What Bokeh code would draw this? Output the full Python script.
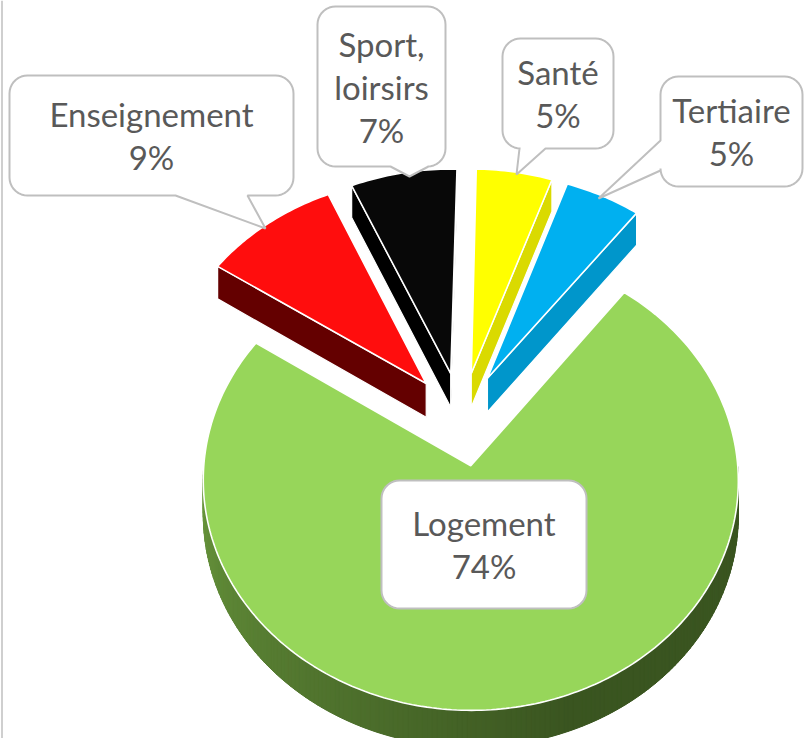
import numpy as np
from bokeh.plotting import figure
from bokeh.models import Range1d
from bokeh.embed import file_html
from bokeh.resources import INLINE
from bokeh.core.properties import value

# ---------------- data ----------------
categories = ["Logement", "Enseignement", "Sport,\nloirsirs", "Santé", "Tertiaire"]
values = [74, 9, 7, 5, 5]
pct_text = ["74%", "9%", "7%", "5%", "5%"]
top_colors = ["#97D65A", "#FF0D0D", "#080808", "#FFFF00", "#00B0F0"]
side_colors = ["#3A5520", "#640000", "#000000", "#DADA00", "#0096CB"]

# ---------------- 3D pie layout (pixel space) ----------------
FIRST_SLICE_ANGLE = 37.3   # degrees, clockwise from 12 o'clock
CX, CY = 461.0, 418.5
RX, RY = 263.5, 223.0
PERSP = 0.063
EXPLODE = 0.21
DEPTH = 34.0

W, H = 806, 738


def proj(u, v, h=0.0):
    u = np.asarray(u, dtype=float)
    v = np.asarray(v, dtype=float)
    s = 1.0 / (1.0 + PERSP * v)
    return CX + RX * u * s, CY - RY * v * s + DEPTH * h * s


def hex_to_rgb(h):
    h = h.lstrip("#")
    return np.array([int(h[i:i + 2], 16) for i in (0, 2, 4)], dtype=float)


def mix(c1, c2, w):
    a, b = hex_to_rgb(c1), hex_to_rgb(c2)
    c = a * (1 - w) + b * w
    return "#%02x%02x%02x" % tuple(int(round(x)) for x in c)


p = figure(width=W, height=H, x_range=Range1d(0, W), y_range=Range1d(H, 0),
           output_backend="svg", toolbar_location=None, min_border=0,
           x_axis_location=None, y_axis_location=None)
p.grid.visible = False
p.outline_line_color = None
p.background_fill_color = "white"
p.border_fill_color = "white"

# chart-area border on the left
p.segment(x0=[1.5], y0=[0], x1=[1.5], y1=[H], line_color="#BFBFBF", line_width=1.5)

total = float(sum(values))
cum = 0.0
slices = []
for i, val in enumerate(values):
    clock0 = FIRST_SLICE_ANGLE + 360.0 * cum / total
    clock1 = clock0 + 360.0 * val / total
    cum += val
    hi = np.radians(90.0 - clock0)
    lo = np.radians(90.0 - clock1)
    slices.append((i, lo, hi))

# draw back slices first, front slice last
order = sorted(slices, key=lambda s: -np.sin((s[1] + s[2]) / 2))
for i, lo, hi in order:
    m = (lo + hi) / 2
    ox, oy = EXPLODE * np.cos(m), EXPLODE * np.sin(m)
    n = max(int(np.degrees(hi - lo)) + 2, 6)
    ts = np.linspace(hi, lo, n)
    u = ox + np.cos(ts)
    v = oy + np.sin(ts)
    tx, ty = proj(u, v, 0.0)
    bx, by = proj(u, v, 1.0)
    cx0, cy0 = proj(ox, oy, 0.0)
    cx1, cy1 = proj(ox, oy, 1.0)

    # outer curved wall (front-facing parts): base then shaded strips
    vis = [k for k in range(n - 1) if np.sin((ts[k] + ts[k + 1]) / 2) < 0]
    if vis:
        ks = list(range(vis[0], vis[-1] + 2))
        base = mix(top_colors[i], side_colors[i], 0.8)
        p.patch(list(tx[ks]) + list(bx[ks][::-1]), list(ty[ks]) + list(by[ks][::-1]),
                fill_color=base, line_color=None)
    for k in vis:
        tm = (ts[k] + ts[k + 1]) / 2
        deg = np.degrees(tm) % 360.0
        f = np.clip((deg - 180.0) / 110.0, 0, 1)
        col = mix(top_colors[i], side_colors[i], 0.5 + 0.5 * f)
        p.patch([tx[k], tx[k + 1], bx[k + 1], bx[k]],
                [ty[k], ty[k + 1], by[k + 1], by[k]],
                fill_color=col, line_color=col, line_width=1.0)

    # radial walls
    for edge, normal, idx in ((hi, hi + np.pi / 2, 0), (lo, lo - np.pi / 2, n - 1)):
        if np.sin(normal) < -0.02:
            p.patch([float(cx0), tx[idx], bx[idx], float(cx1)],
                    [float(cy0), ty[idx], by[idx], float(cy1)],
                    fill_color=side_colors[i], line_color="white", line_width=1.2)

    # top face
    p.patch(np.concatenate([[cx0], tx]), np.concatenate([[cy0], ty]),
            fill_color=top_colors[i], line_color="white", line_width=1.6)


# ---------------- callout labels ----------------
label_boxes = [
    (381, 480, 586, 608, None),
    (9, 75, 293, 195, ("bottom", 175, 247, 265, 228)),
    (317, 6, 445, 166, ("bottom", 390, 428, 409, 176)),
    (502, 38, 613, 148, ("bottom", 519, 545, 516, 174)),
    (660, 76, 802, 186, ("left", 140, 170, 598, 198)),
]
LINE_STEP = 43.0


def callout(x0, y0, x1, y1, r, tail):
    pts = []

    def arc(cx, cy, a0, a1):
        for a in np.linspace(a0, a1, 10):
            pts.append((cx + r * np.cos(np.radians(a)), cy + r * np.sin(np.radians(a))))

    arc(x0 + r, y0 + r, 180, 270)
    arc(x1 - r, y0 + r, 270, 360)
    arc(x1 - r, y1 - r, 0, 90)
    if tail and tail[0] == "bottom":
        _, b0, b1, tx_, ty_ = tail
        pts += [(b1, y1), (tx_, ty_), (b0, y1)]
    arc(x0 + r, y1 - r, 90, 180)
    if tail and tail[0] == "left":
        _, b0, b1, tx_, ty_ = tail
        pts += [(x0, b1), (tx_, ty_), (x0, b0)]
    return [q[0] for q in pts], [q[1] for q in pts]


for i, (x0, y0, x1, y1, tail) in enumerate(label_boxes):
    xs, ys = callout(x0, y0, x1, y1, 18, tail)
    p.patch(xs, ys, fill_color="white", line_color="#BFBFBF", line_width=2)
    lines = (categories[i] + "\n" + pct_text[i]).split("\n")
    ymid = (y0 + y1) / 2.0
    nl = len(lines)
    lx = [(x0 + x1) / 2.0] * nl
    ly = [ymid + (k - (nl - 1) / 2.0) * LINE_STEP for k in range(nl)]
    p.text(x=lx, y=ly, text=lines, text_align="center", text_baseline="middle",
           text_font=value("Lato"), text_font_size="33px", text_color="#595959")

open("out.html", "w").write(file_html(p, INLINE))
